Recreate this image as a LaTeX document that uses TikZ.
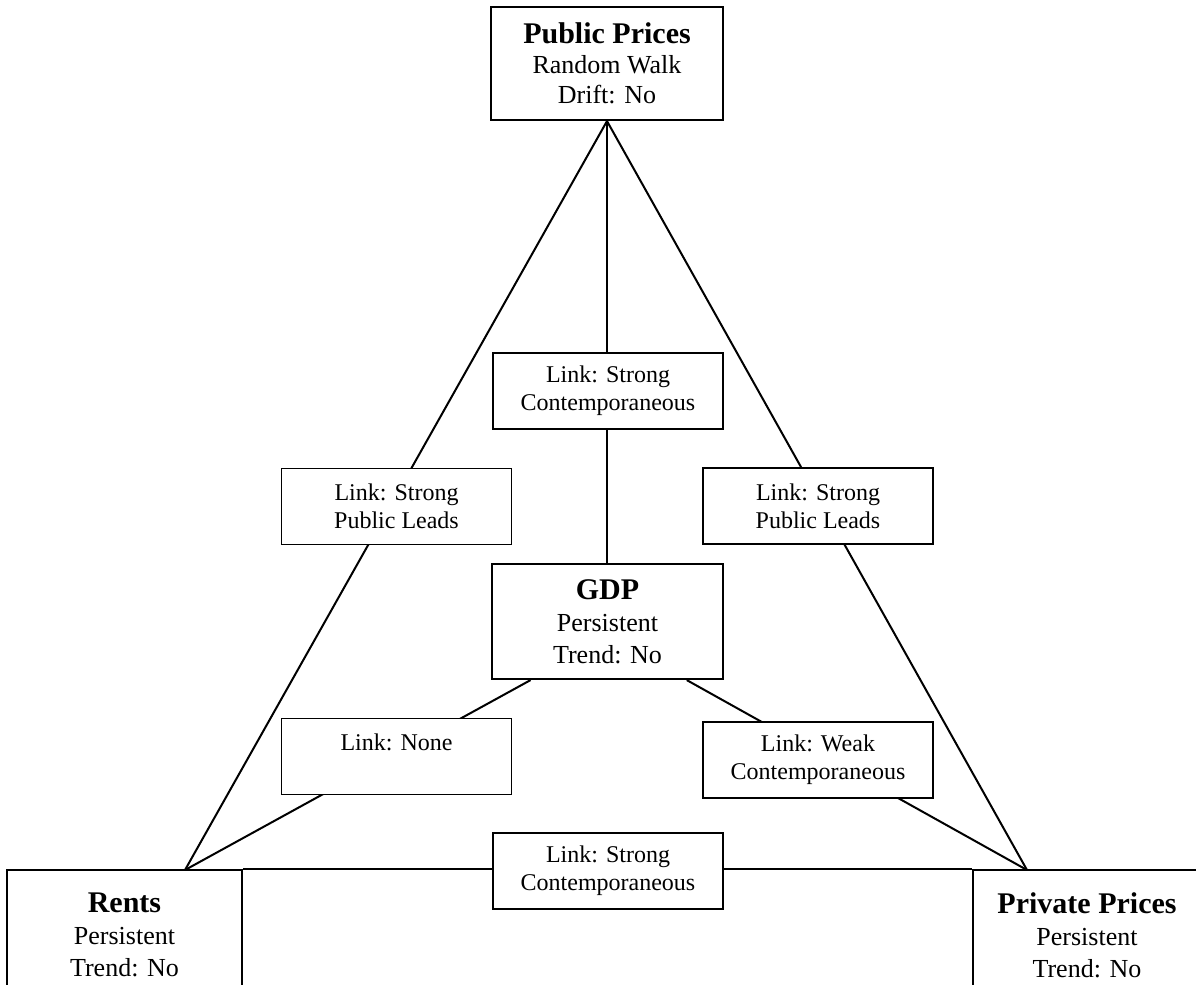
\documentclass[tikz,border=0pt]{standalone}
\usepackage{fontspec}
\setmainfont{Liberation Serif}
\usetikzlibrary{backgrounds,calc}
\begin{document}
\begin{tikzpicture}[x=0.5pt,y=-0.5pt,
  mainbox/.style={draw, line width=1.1pt, fill=white, align=center, inner sep=0pt,
    font=\fontsize{13}{15}\selectfont},
  linkbox/.style={draw, line width=0.7pt, fill=white, align=center, inner sep=0pt,
    minimum width=115pt, minimum height=38pt, font=\fontsize{12}{14.2}\selectfont},
  conn/.style={line width=1pt},
  ttl/.style={font=\bfseries\fontsize{15}{15}\selectfont}]
\useasboundingbox (0,0) rectangle (1196,985);

% main boxes
\node[mainbox, minimum width=116pt, minimum height=56.5pt] (top) at (607,63.5)
  {{\bfseries\fontsize{15}{15}\selectfont Public Prices}\\ Random Walk\\ Drift: No};
\node[mainbox, minimum width=115.5pt, minimum height=57.5pt] (gdp) at (607.5,621.5)
  {{\bfseries\fontsize{15}{15}\selectfont GDP}\\[1pt] Persistent\\[1pt] Trend: No};
\node[mainbox, minimum width=117.5pt, minimum height=65pt] (rents) at (124.5,935)
  {{\bfseries\fontsize{15}{15}\selectfont Rents}\\[1pt] Persistent\\[1pt] Trend: No};
\node[mainbox, minimum width=114pt, minimum height=65pt] (priv) at (1087,935)
  {{\bfseries\fontsize{15}{15}\selectfont Private Prices}\\[1pt] Persistent\\[1pt] Trend: No};

% link boxes
\node[linkbox] (cl) at (608,391) {Link: Strong\\ Contemporaneous};
\node[linkbox] (ll) at (396.5,506.5) {Link: Strong\\ Public Leads};
\node[linkbox] (rl) at (818,506) {Link: Strong\\ Public Leads};
\node[linkbox] (nl) at (396.5,756.5) {Link: None\\ \mbox{}};
\node[linkbox] (wl) at (818,760) {Link: Weak\\ Contemporaneous};
\node[linkbox] (bl) at (608,871) {Link: Strong\\ Contemporaneous};

% contact points
\coordinate (rc) at (185,870);
\coordinate (pc) at (1027,870);
\coordinate (gl) at ($(gdp.south west)!0.17!(gdp.south east)$);
\coordinate (gr) at ($(gdp.south west)!0.84!(gdp.south east)$);

\begin{scope}[on background layer]
  \draw[conn] (top.south) -- (rc);
  \draw[conn] (top.south) -- (pc);
  \draw[conn] (top.south) -- (top.south |- gdp.north);
  \draw[conn] (gl) -- (rc);
  \draw[conn] (gr) -- (pc);
  \draw[conn] (rents.north east) -- (priv.north west);
\end{scope}
\end{tikzpicture}
\end{document}
